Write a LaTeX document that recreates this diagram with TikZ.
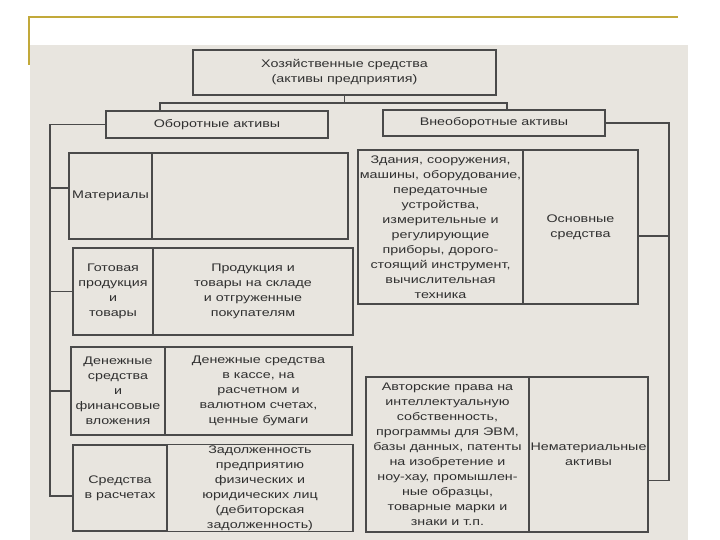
\documentclass[tikz,border=0pt]{standalone}
\usepackage{fontspec}
\setmainfont{Liberation Sans}[FakeStretch=1.3]
\usetikzlibrary{positioning,calc}

\definecolor{panel}{HTML}{E8E5DF}
\definecolor{goldline}{HTML}{C2A93A}
\definecolor{boxline}{HTML}{4A4A4A}
\definecolor{boxtext}{HTML}{303030}

\begin{document}
\begin{tikzpicture}[x=1pt,y=-1pt,
	cell/.style={draw=boxline, line width=1.3pt, fill=panel, inner sep=1pt, outer sep=0pt,
		align=center, text=boxtext, font=\fontsize{11}{15}\selectfont},
	link/.style={draw=boxline, line width=1.3pt}]

	\useasboundingbox (0,0) rectangle (720,540);

	% Draw the grey panel and the gold corner line
	\fill[panel] (30,45) rectangle (688,540);
	\draw[goldline, line width=1.6pt] (29,65) -- (29,17) -- (678,17);

	% Draw the top box and the two groups of assets
	\node[cell, anchor=north west, minimum width=303pt, minimum height=45pt] (top) at (193,50)
		{Хозяйственные средства\\(активы предприятия)};
	\node[cell, anchor=north west, minimum width=222pt, minimum height=27pt] (obor) at (106,111)
		{Оборотные активы};
	\node[cell, anchor=north west, minimum width=222pt, minimum height=26pt] (vneob) at (383,110)
		{Внеоборотные активы};

	% Draw the current assets, left column
	\node[cell, anchor=north west, minimum width=83pt, minimum height=86pt] (matL) at (69,153) {Материалы};
	\node[cell, minimum width=196pt, minimum height=86pt, right=0pt of matL] (matR) {};

	\node[cell, anchor=north west, minimum width=80pt, minimum height=87pt] (gotL) at (73,248)
		{Готовая\\продукция\\и\\товары};
	\node[cell, minimum width=200pt, minimum height=87pt, right=0pt of gotL] (gotR)
		{Продукция и\\товары на складе\\и отгруженные\\покупателям};

	\node[cell, anchor=north west, minimum width=94pt, minimum height=88pt] (denL) at (71,347)
		{Денежные\\средства\\и\\финансовые\\вложения};
	\node[cell, minimum width=187pt, minimum height=88pt, right=0pt of denL] (denR)
		{Денежные средства\\в кассе, на\\расчетном и\\валютном счетах,\\ценные бумаги};

	\node[cell, anchor=north west, minimum width=94pt, minimum height=86pt] (sredL) at (73,445)
		{Средства\\в расчетах};
	\node[cell, minimum width=186pt, minimum height=86pt, right=0pt of sredL] (sredR)
		{Задолженность\\предприятию\\физических и\\юридических лиц\\(дебиторская\\задолженность)};

	% Draw the non-current assets, right column
	\node[cell, anchor=north west, minimum width=165pt, minimum height=154pt] (osnL) at (358,150)
		{Здания, сооружения,\\машины, оборудование,\\передаточные\\устройства,\\измерительные и\\регулирующие\\приборы, дорого-\\стоящий инструмент,\\вычислительная\\техника};
	\node[cell, minimum width=115pt, minimum height=154pt, right=0pt of osnL] (osnR)
		{Основные\\средства};

	\node[cell, anchor=north west, minimum width=163pt, minimum height=155pt] (nemL) at (366,377)
		{Авторские права на\\интеллектуальную\\собственность,\\программы для ЭВМ,\\базы данных, патенты\\на изобретение и\\ноу-хау, промышлен-\\ные образцы,\\товарные марки и\\знаки и т.п.};
	\node[cell, minimum width=119pt, minimum height=155pt, right=0pt of nemL] (nemR)
		{Нематериальные\\активы};

	% Draw the bus under the top box
	\coordinate (tapL) at (160,103);
	\coordinate (tapR) at (507,103);
	\draw[link] (top.south) -- (top.south |- tapL);
	\draw[link] (obor.north -| tapL) -- (tapL) -- (tapR) -- (vneob.north -| tapR);

	% Draw the left spine to the current assets
	\coordinate (spineL) at (50,0);
	\draw[link] (obor.west) -- (obor.west -| spineL) |- ($(sredL.west)+(0,8)$);
	\draw[link] ($(matL.west)+(0,-8)$) -- ($(matL.west -| spineL)+(0,-8)$);
	\draw[link] (gotL.west) -- (gotL.west -| spineL);
	\draw[link] (denL.west) -- (denL.west -| spineL);

	% Draw the right spine to the non-current assets
	\coordinate (spineR) at (669,0);
	\draw[link] (vneob.east) -| ($(nemR.east -| spineR)+(0,26)$) -- ($(nemR.east)+(0,26)$);
	\draw[link] ($(osnR.east)+(0,9)$) -- ($(osnR.east -| spineR)+(0,9)$);

\end{tikzpicture}
\end{document}
